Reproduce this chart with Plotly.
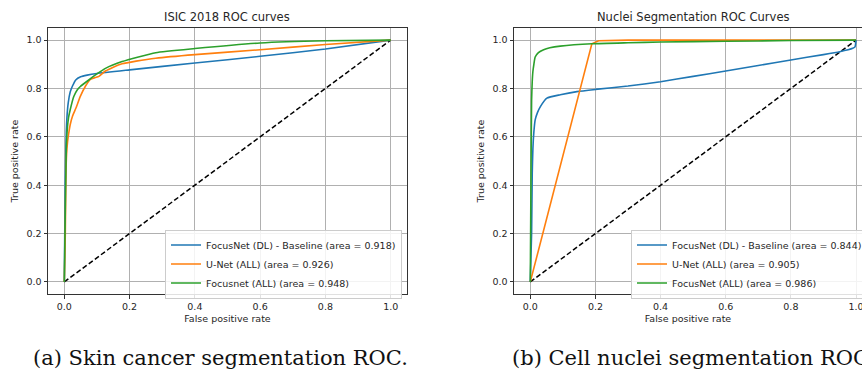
import plotly.graph_objects as go

W, H = 862, 372

# ---------------- data ----------------
names_a = ["FocusNet (DL) - Baseline (area = 0.918)", "U-Net (ALL) (area = 0.926)", "Focusnet (ALL) (area = 0.948)"]
names_b = ["FocusNet (DL) - Baseline (area = 0.844)", "U-Net (ALL) (area = 0.905)", "FocusNet (ALL) (area = 0.986)"]

a_blue_x = [0, 0.002, 0.004, 0.006, 0.008, 0.012, 0.018, 0.025, 0.035, 0.05, 0.07, 0.1, 0.2, 0.4, 0.6, 0.8, 1.0]
a_blue_y = [0, 0.30, 0.50, 0.62, 0.68, 0.74, 0.785, 0.81, 0.835, 0.848, 0.855, 0.862, 0.877, 0.905, 0.933, 0.963, 1.0]

a_orange_x = [0, 0.003, 0.005, 0.007, 0.01, 0.013, 0.018, 0.025, 0.036, 0.049, 0.065, 0.08, 0.095, 0.106, 0.126, 0.15, 0.177, 0.22, 0.28, 0.4, 0.6, 0.8, 1.0]
a_orange_y = [0, 0.2, 0.45, 0.53, 0.58, 0.61, 0.65, 0.685, 0.72, 0.767, 0.81, 0.838, 0.845, 0.85, 0.872, 0.888, 0.902, 0.913, 0.925, 0.94, 0.96, 0.982, 1.0]

a_green_x = [0, 0.003, 0.006, 0.009, 0.013, 0.018, 0.029, 0.04, 0.049, 0.075, 0.1, 0.126, 0.177, 0.28, 0.4, 0.6, 0.8, 1.0]
a_green_y = [0, 0.3, 0.55, 0.63, 0.68, 0.712, 0.767, 0.795, 0.808, 0.835, 0.86, 0.883, 0.911, 0.948, 0.965, 0.988, 0.997, 1.0]

b_blue_x = [0, 0.004, 0.006, 0.008, 0.011, 0.015, 0.022, 0.031, 0.051, 0.092, 0.143, 0.2, 0.3, 0.4, 0.5, 0.6, 0.7, 0.8, 0.9, 0.95, 0.99, 0.997, 1.0]
b_blue_y = [0, 0.2, 0.45, 0.55, 0.62, 0.67, 0.70, 0.725, 0.76, 0.774, 0.787, 0.796, 0.81, 0.828, 0.85, 0.872, 0.895, 0.918, 0.94, 0.952, 0.966, 0.972, 1.0]

b_orange_x = [0, 0.189, 0.21, 0.25, 0.3, 0.5, 1.0]
b_orange_y = [0, 0.985, 0.997, 0.999, 1.0, 1.0, 1.0]

b_green_x = [0, 0.002, 0.004, 0.006, 0.008, 0.011, 0.015, 0.025, 0.041, 0.06, 0.092, 0.189, 0.3, 0.4, 0.6, 0.8, 1.0]
b_green_y = [0, 0.4, 0.75, 0.83, 0.87, 0.9, 0.93, 0.948, 0.96, 0.968, 0.975, 0.985, 0.989, 0.992, 0.995, 0.998, 1.0]

chance = [0, 1]

ticks = [0.0, 0.2, 0.4, 0.6, 0.8, 1.0]
tick_text = ["0.0", "0.2", "0.4", "0.6", "0.8", "1.0"]

titles = ["ISIC 2018 ROC curves", "Nuclei Segmentation ROC Curves"]
captions = ["(a) Skin cancer segmentation ROC.", "(b) Cell nuclei segmentation ROC."]

colors = ["#1f77b4", "#ff7f0e", "#2ca02c"]

# ---------------- figure ----------------
fig = go.Figure()

for xa, ya in [("x", "y"), ("x2", "y2")]:
    fig.add_trace(go.Scatter(x=chance, y=chance, mode="lines", xaxis=xa, yaxis=ya,
                             line=dict(color="black", width=1.5, dash="5px,2.6px"),
                             showlegend=False, hoverinfo="skip"))

panel_a = [(a_blue_x, a_blue_y), (a_orange_x, a_orange_y), (a_green_x, a_green_y)]
panel_b = [(b_blue_x, b_blue_y), (b_orange_x, b_orange_y), (b_green_x, b_green_y)]

for i, (xs, ys) in enumerate(panel_a):
    fig.add_trace(go.Scatter(x=xs, y=ys, mode="lines", name=names_a[i], xaxis="x", yaxis="y",
                             legend="legend", line=dict(color=colors[i], width=1.6, shape="spline", smoothing=0.5)))
for i, (xs, ys) in enumerate(panel_b):
    fig.add_trace(go.Scatter(x=xs, y=ys, mode="lines", name=names_b[i], xaxis="x2", yaxis="y2",
                             legend="legend2", line=dict(color=colors[i], width=1.6,
                                                         shape="linear" if i == 1 else "spline", smoothing=0.5)))

FONT = "DejaVu Sans"
tickfont = dict(family=FONT, size=9.5, color="#262626")

def px_x(p):
    return p / W

def px_y(p):
    return 1 - p / H

ax_common = dict(
    tickvals=ticks, ticktext=tick_text, tickfont=tickfont,
    showgrid=True, gridcolor="#b0b0b0", gridwidth=1,
    zeroline=False, showline=True, linecolor="#333333", linewidth=1,
    ticks="outside", ticklen=3.5, tickcolor="#333333", tickwidth=1,
    fixedrange=True, ticklabeloverflow="allow",
)

y_dom = [px_y(294), px_y(28)]
lab_font = dict(family=FONT, size=9.5, color="#262626")

fig.update_layout(
    width=W, height=H,
    margin=dict(l=0, r=0, t=0, b=0, autoexpand=False),
    paper_bgcolor="white", plot_bgcolor="white",
    font=dict(family=FONT, size=9.5, color="#262626"),
    xaxis=dict(ax_common, domain=[px_x(48), px_x(407)], range=[-0.05, 1.05], anchor="y", mirror=True,
               title=dict(text="False positive rate", font=lab_font, standoff=4)),
    yaxis=dict(ax_common, domain=y_dom, range=[-0.05, 1.05], anchor="x", mirror=True,
               title=dict(text="True positive rate", font=lab_font, standoff=6)),
    xaxis2=dict(ax_common, domain=[px_x(514), 1.0], range=[-0.05, (862 - 530) / 326], anchor="y2", mirror=True,
                title=dict(text="False positive rate", font=lab_font, standoff=4)),
    yaxis2=dict(ax_common, domain=y_dom, range=[-0.05, 1.05], anchor="x2", mirror=False,
                title=dict(text="True positive rate", font=lab_font, standoff=6)),
    legend=dict(x=px_x(402), xanchor="right", y=px_y(264), yanchor="middle",
                bgcolor="rgba(255,255,255,0.85)", bordercolor="#cccccc", borderwidth=1,
                font=lab_font, itemwidth=30, tracegroupgap=0),
    legend2=dict(x=px_x(631), xanchor="left", y=px_y(264), yanchor="middle",
                 bgcolor="rgba(255,255,255,0.85)", bordercolor="#cccccc", borderwidth=1,
                 font=lab_font, itemwidth=30, tracegroupgap=0),
    showlegend=True,
)

annos = [
    dict(text=titles[0], x=px_x(227), y=px_y(17), xref="paper", yref="paper",
         xanchor="center", yanchor="middle", showarrow=False,
         font=dict(family=FONT, size=11.5, color="#262626")),
    dict(text=titles[1], x=px_x(693), y=px_y(17), xref="paper", yref="paper",
         xanchor="center", yanchor="middle", showarrow=False,
         font=dict(family=FONT, size=11.5, color="#262626")),
    dict(text=captions[0], x=px_x(220), y=px_y(358), xref="paper", yref="paper",
         xanchor="center", yanchor="middle", showarrow=False,
         font=dict(family="DejaVu Serif", size=21, color="#111111")),
    dict(text=captions[1], x=px_x(693), y=px_y(358), xref="paper", yref="paper",
         xanchor="center", yanchor="middle", showarrow=False,
         font=dict(family="DejaVu Serif", size=21, color="#111111")),
]
fig.update_layout(annotations=annos)

fig.write_html("out.html", config={"displayModeBar": False},
               post_script="document.body.style.margin='0';document.body.style.overflow='hidden';")
